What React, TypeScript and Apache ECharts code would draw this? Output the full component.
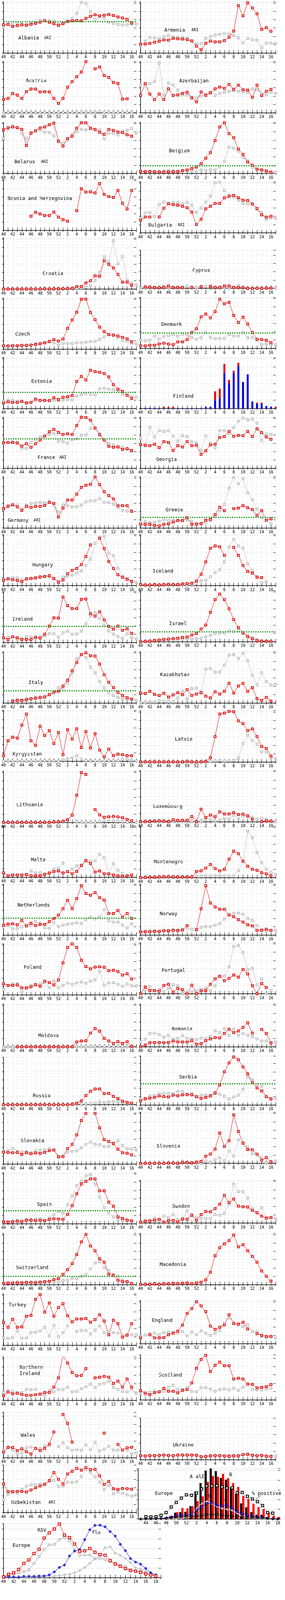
import React, { useEffect, useRef } from "react";
import * as echarts from "echarts";

const weeks = ["40","41","42","43","44","45","46","47","48","49","50","51","52","1","2","3","4","5","6","7","8","9","10","11","12","13","14","15","16","17"];
const euBarWeeks = ["43","44","45","46","47","48","49","50","51","52","1","2","3","4","5","6","7","8","9","10","11","12","13","14","15","16","17","18"];
const rsvWeeks = ["40","41","42","43","44","45","46","47","48","49","50","51","52","1","2","3","4","5","6","7","8","9","10","11","12","13","14","15","16","17","18","19"];

const albaniaRed = [3.4,3.43,3.19,3.3,3.37,3.33,3.44,3.56,3.7,3.87,3.69,3.51,3.31,3.51,3.81,3.86,3.9,3.86,4.16,4.41,4.59,4.47,4.54,4.63,4.51,4.33,4.21,4.04,3.6];
const albaniaGray = [3.11,3.47,3.54,3.56,3.5,3.46,3.54,3.61,3.9,3.91,3.89,3.83,3.47,3.57,3.76,4.16,4.76,6.09,5.97,4.97,4.04,4.33,4.16,3.69,3.57,3.43,3.37,3.39,3.47,3.47];
const armeniaRed = [1.07,1.07,1.16,1.3,1.41,1.57,1.54,1.76,1.71,1.67,1.6,1.44,0.81,0.39,1.16,1.44,1.33,1.33,1.5,1.89,2.64,5.69,4.47,6.04,5.4,4.71,2.83,3.04,2.61];
const armeniaGray = [0.9,1.43,1.87,1.8,1.73,1.97,2.07,1.94,1.87,1.89,1.79,1.47,1.14,1.14,1.76,1.97,2.16,2.24,2.34,2.3,2.11,1.83,1.23,1.76,1.59,1.54,0.64,1.19,1.19,1.16];
const austriaRed = [1.6,1.71,2.31,2.11,1.71,2.53,2.84,2.84,2.49,2.53,2.5,1.71,1.13,1.71,3.07,3.73,4.33,4.9,6.14,null,5.27,5.49,4.46,4.24,3.64,3.51,1.63,1.67,null];
const austriaGray = [0.05,0.05,0.05,0.05,0.05,0.05,0.05,0.05,0.05,0.05,0.05,0.05,0.05,0.05,0.05,0.05,0.05,0.08,0.1,0.1,0.1,0.15,0.1,0.1,0.08,0.05,0.05,0.05,0.05];
const azerRed = [2.07,3.5,2.24,1.57,2.24,1.6,2.86,2.07,2.14,2.33,2.47,1.77,1.31,2.5,2.09,2.39,2.86,3.09,2.93,3.4,2.81,3.31,2.76,2.71,1.86,3.31,2.06,2.57,2.79];
const azerGray = [3.31,3.43,3.46,3.74,5.97,2.11,3.57,3.31,2.74,2.14,2.11,1.89,1.77,2.0,2.21,2.47,2.06,2.31,2.47,2.57,2.64,2.57,2.5,2.43,2.83,2.76,2.29,2.14,2.47,2.33];
const belarusRed = [5.27,5.49,5.6,5.51,5.3,3.37,4.83,5.13,5.47,5.6,5.87,6.06,3.89,3.31,4.2,4.49,5.44,6.1,6.1,5.46,5.3,4.96,4.7,5.3,5.19,4.99,4.91,4.66,4.49];
const belarusGray = [4.2,5.34,5.73,5.49,4.8,4.24,4.96,5.16,5.24,4.96,4.91,4.54,3.81,3.63,4.06,4.69,5.06,5.3,5.24,5.34,5.27,5.27,4.17,4.84,4.84,4.63,5.06,5.2,5.41,4.84];
const belgiumRed = [0.26,0.21,0.26,0.21,0.17,0.17,0.21,0.21,0.21,0.36,0.43,0.6,0.77,1.2,1.84,2.51,3.96,5.6,6.1,4.8,4.31,2.94,2.3,1.38,1.0,0.53,0.43,0.31,0.17];
const belgiumGray = [0.26,0.26,0.26,0.26,0.26,0.31,0.36,0.31,0.31,0.31,0.31,0.31,0.21,0.43,0.39,0.46,0.43,0.79,1.46,3.16,3.06,2.7,1.91,1.53,0.74,0.5,0.43,0.21,0.14,0.14];
const bihRed = [null,null,null,null,null,null,1.71,2.19,1.97,1.79,1.79,2.21,1.6,1.29,1.11,null,2.36,5.0,4.6,4.64,4.5,5.64,4.33,4.07,3.96,4.79,3.26,2.57,4.79];
const bulgariaRed = [1.54,1.91,1.91,null,1.91,2.97,3.5,3.39,3.33,3.2,3.03,2.5,1.0,1.64,2.89,3.2,3.54,3.54,4.21,4.4,4.51,4.23,3.93,3.89,3.46,2.93,2.17,1.89,2.0];
const bulgariaGray = [1.76,2.39,2.43,1.96,3.41,3.71,3.54,3.64,3.67,3.5,3.67,3.33,2.47,2.99,3.7,4.4,6.03,6.1,5.1,4.5,4.29,3.93,3.54,3.47,3.54,2.81,2.47,1.61,1.8,1.74];
const croatiaRed = [0,0,0,0,0,0,0,0,0,0.04,0,0.04,0.04,0.04,0.07,0.1,0.31,0.31,0.74,1.0,1.6,1.54,3.4,2.96,2.53,1.76,0.83,0.83,0.47];
const croatiaGray = [0,0,0,0,0,0,0,0,0,0,0,0,0,0,0,0.07,0.1,0.14,0.21,0.4,1.03,2.0,3.89,3.26,5.83,3.0,3.9,1.11,0.74,0.5];
const cyprusRed = [null,0.19,0.16,0.11,0.09,0.11,0.29,0.11,0.11,0.11,null,0.11,null,0.19,null,0.26,0.09,0.11,0.29,0.29,0.11,0.11,0.11,0,0,0,0,0.04,0.04];
const cyprusGray = [0.05,0.1,0.15,0.1,0.05,0.3,0.1,0.1,0.1,0.1,0.28,0.1,0.1,0.24,0.24,0.24,0.2,0.1,0.1,0.1,0.1,0.33,0.1,0.05,0.05,0.05,0.05,0.05,0.05,0.05];
const czechRed = [0.39,0.39,0.41,0.41,0.46,0.46,0.49,0.57,0.64,0.76,0.93,1.14,0.97,1.23,2.5,3.5,4.44,6.0,6.01,4.4,3.54,2.64,2.11,1.76,1.7,1.59,1.43,1.24,0.89];
const czechGray = [0.4,0.4,0.4,0.4,0.4,0.4,0.5,0.67,0.71,0.79,0.86,0.76,0.5,0.71,0.67,0.67,0.76,0.76,0.83,0.9,0.93,1.19,1.47,1.71,1.64,1.43,1.03,0.97,0.71,0.64];
const denmarkRed = [0.31,0.31,0.39,0.39,0.54,0.63,0.53,0.46,0.79,0.79,1.07,1.91,2.36,3.79,4.14,3.67,4.43,5.93,5.36,5.54,3.97,3.11,3.76,2.93,1.91,1.11,1.07,0.97,0.69];
const denmarkGray = [0.96,0.93,1.0,1.5,1.14,1.46,1.53,1.67,1.49,1.71,1.61,1.31,1.11,1.29,1.93,1.31,1.19,1.19,1.21,1.67,1.49,1.49,1.9,1.29,1.31,0.96,0.47,0.54,0.5,0.46];
const estoniaRed = [0.66,0.8,0.73,0.73,0.87,0.66,0.73,1.14,0.97,0.97,0.94,1.3,1.09,1.36,1.43,1.57,3.26,3.86,3.43,4.61,4.43,4.36,4.21,3.79,2.87,2.33,2.07,1.59,1.21];
const estoniaGray = [0.86,1.0,0.94,0.87,0.83,0.71,0.76,0.97,1.0,1.0,0.97,1.0,0.94,1.01,1.07,1.04,1.51,1.69,1.8,1.71,1.64,2.36,2.43,2.33,2.26,2.19,1.69,1.64,1.4,1.37];
const finlandBlue = [0.07,0.07,0.07,0.07,0.07,0.04,0.04,0.04,0.05,0.05,0.05,0.05,0.05,0.05,0.19,0.19,1.0,1.26,4.29,3.04,4.29,5.11,3.19,4.11,0.86,0.57,0.57,0.3,0.19,0.07];
const finlandRed = [0,0,0,0,0,0.15,0.15,0.15,0,0,0,0,0,0,0,0,1.07,1.14,1.08,0.4,0.25,0.39,0,0,0,0.14,0.14,0,0,0.12];
const franceRed = [3.06,3.1,3.1,3.03,2.67,2.96,2.53,2.96,3.39,3.86,4.39,4.67,4.31,4.06,4.14,4.06,5.14,6.14,6.1,5.77,4.84,4.03,3.39,2.64,2.53,2.56,2.27,2.36,2.14];
const franceGray = [3.03,3.1,3.17,3.1,2.41,2.36,3.1,3.49,3.74,3.89,4.07,4.21,3.27,3.2,3.0,3.43,3.53,3.96,4.03,4.79,4.81,4.17,3.39,3.03,2.79,2.6,2.53,2.27,2.03];
const georgiaRed = [2.84,2.77,2.71,2.89,2.49,3.2,3.1,2.14,2.71,2.56,3.21,2.71,2.77,1.67,2.1,2.81,2.89,3.7,3.81,4.43,3.84,3.96,3.91,4.43,3.81,4.74,4.29,3.77,3.49];
const georgiaGray = [3.6,2.7,4.93,3.77,4.53,4.43,4.53,3.86,3.27,3.91,3.79,3.17,3.03,2.14,3.89,3.03,2.46,4.56,4.53,4.2,4.89,5.66,6.03,5.81,5.91,5.43,3.34,4.13,4.06];
const germanyRed = [2.33,2.64,2.79,2.54,2.11,2.6,2.47,2.6,2.6,2.71,3.07,2.96,1.31,2.39,3.36,3.36,4.07,4.89,5.14,5.26,6.14,5.21,4.36,3.89,3.5,2.69,2.69,2.69,2.0];
const germanyGray = [2.21,2.53,2.74,2.74,2.29,2.74,2.93,3.0,3.07,3.03,3.19,2.71,1.93,2.74,2.69,2.53,2.57,2.74,3.14,3.26,3.31,3.54,3.07,3.07,2.86,2.47,2.1,2.03,2.07];
const greeceRed = [0.46,0.43,0.46,0.31,0.26,0.46,0.5,0.71,0.89,0.89,1.24,0.46,0.46,0.54,0.93,1.04,1.61,2.5,2.09,null,2.33,2.39,2.69,2.43,2.21,1.53,2.09,0.93,1.1];
const greeceGray = [0.69,0.76,0.64,0.71,0.81,1.03,0.89,0.96,0.93,0.93,0.93,0.81,0.54,0.54,0.69,0.9,1.39,2.07,2.83,4.76,6.07,5.31,5.93,4.24,3.4,2.29,1.26,0.93,0.5];
const hungaryRed = [0.64,0.81,0.71,0.6,0.49,0.79,0.84,0.91,1.03,1.09,1.2,0.86,0.39,0.67,1.43,1.84,2.06,2.53,3.5,4.89,null,5.67,4.46,2.91,2.06,1.31,0.99,0.77,0.49];
const hungaryGray = [0.74,0.89,0.96,0.91,0.67,0.89,0.91,1.0,1.1,1.13,1.06,0.81,0.56,1.03,1.13,1.26,1.53,1.77,2.41,3.17,5.1,5.8,5.96,3.84,3.6,2.1,1.13,0.81,0.57,0.41];
const icelandRed = [0.13,0.06,0.06,0.13,0.06,0.13,0.17,0.13,0.13,0.21,0.24,0.29,0.56,1.36,2.86,4.49,4.77,4.66,3.64,null,4.6,3.64,2.41,1.71,1.5,1.0,0.96];
const icelandGray = [0.1,0.1,0.1,0.1,0.1,0.1,0.1,0.1,0.1,0.1,0.1,0.15,0.27,0.6,0.63,1.07,1.57,1.93,2.86,4.64,5.56,4.76,4.51,2.64,1.81,1.1,0.31,0.46];
const irelandRed = [0.57,0.36,0.69,0.57,0.36,0.36,0.36,0.64,0.53,1.0,1.97,2.97,2.93,5.46,4.43,4.07,4.07,5.19,5.24,3.46,3.17,3.69,2.71,1.93,1.61,1.97,1.47,1.64,1.1];
const irelandGray = [0.29,0.61,0.67,0.36,0.43,0.69,0.69,0.53,0.69,0.79,1.07,1.07,0.64,1.17,1.36,0.97,1.03,1.36,2.24,3.21,3.61,2.9,2.07,1.4,1.0,0.71,0.5,1.03,0.57,0.43];
const israelRed = [0,0.03,0.07,0.14,0.21,0.29,0.33,0.39,0.43,0.53,0.57,0.81,1.0,1.53,2.0,3.54,5.07,5.74,5.07,3.97,2.67,1.71,1.07,0.61,0.36,0.14,0.07,0.07,0.07];
const israelGray = [0.03,0.15,0.2,0.2,0.2,0.2,0.2,0.2,0.22,0.29,0.33,0.33,0.36,0.43,0.6,0.79,1.0,1.04,1.07,1.31,1.24,1.36,1.0,0.71,0.53,0.29,0.14,0.07,0.07];
const italyRed = [null,null,0.21,0.29,0.29,0.39,0.49,0.57,0.64,0.7,0.99,1.31,1.41,2.03,2.74,3.86,4.86,5.81,6.03,5.67,5.63,4.67,3.39,2.49,1.84,1.27,0.91,0.64,0.46];
const italyGray = [null,null,0.31,0.39,0.39,0.49,0.53,0.64,0.74,0.86,1.06,1.1,1.84,1.71,2.39,3.53,5.31,5.81,5.46,4.31,3.6,2.57,1.81,1.27,0.89,0.67,0.5,0.46,0.46,0.31];
const kazakhRed = [1.2,1.13,1.41,1.03,0.89,1.17,0.7,0.96,1.24,0.99,1.6,0.91,1.07,1.27,0.81,0.6,1.34,1.07,1.41,2.36,1.2,2.03,2.36,1.39,1.84,0.53,0.31,0.67,0.21];
const kazakhGray = [0.1,0.1,0.13,0.13,0.27,0.21,0.14,0.14,0.6,1.39,0.5,1.74,1.77,1.13,4.06,4.17,3.7,3.7,4.53,5.74,5.81,5.34,5.96,5.06,3.34,2.2,3.63,2.57,2.17,2.24];
const kyrgRed = [0.67,2.46,2.89,2.77,4.34,5.67,2.46,1.91,4.21,3.1,3.67,2.13,3.46,0.79,3.79,2.67,3.89,1.64,3.57,1.6,3.31,1.34,0.53,1.46,0.67,0.86,0.79,0.67,0.67];
const kyrgGray = [0.03,0.03,0.03,0.03,0.03,0.03,0.03,0.03,0.03,0.07,0.07,0.1,0,0.17,0.31,0.43,0.67,0.24,0.06,0.06,0.06,0,0.07,0.07,0.1,0.07,0.24,0.27,0.14,0.03];
const latviaRed = [0,0,0,0.02,0,0,0,0,0,0,0.07,0,0,0,0.07,0.51,3.04,5.76,5.87,6.09,6.04,4.94,4.61,3.76,3.97,3.04,1.86,1.61,0.71];
const latviaGray = [0.02,0.02,0.02,0.02,0.02,0.02,0.02,0.02,0.02,0.02,0.02,0.02,0.02,0.02,0.05,0.1,0.14,0.19,0.12,0.16,0.19,0.47,2.23,3.23,2.59,2.16,1.21,1.21,0.5,0.4];
const lithRed = [0,0,0,0,0,0,0,0,0,0,0,0.07,0.07,0.14,0.33,0.87,3.27,5.99,5.77,null,1.54,0.9,0.61,0.67,0.73,0.66,0.57,0.37,0.19];
const lithGray = [0,0,0,0,0,0,0,0,0,0,0,0,0,0.05,0.3,0.9,0.05,0,0,0,0,0.1,0.17,0.2,0.17,0.13,0.1,0.07,0.05,0];
const luxRed = [0,0,0.04,0.07,0.11,0.07,0,0.23,0.16,0.16,0.16,0.61,0,1.5,0.51,0.8,0.59,1.19,0.93,0.93,1.09,0.86,0.9,0.71,0.3,null,0,0.11,0.07];
const luxGray = [0.1,0.1,0.1,0.1,0.1,0.1,0.1,0.1,0.1,0.1,0.1,0.07,0,0.1,0.19,0.23,0.11,0.19,0.4,0.33,0.76,0.37,0.69,0.61,0.5,0.29,0.43,0.29,0.11,0.04];
const maltaRed = [0.5,0.17,0.26,0.26,0.26,0.33,0.17,0.17,0.17,0.33,0.5,0.67,0.74,0.5,0.67,0.4,0.71,1.39,1.97,1.64,0.61,0.74,0.4,0.4,0.26,0.17,0.11,0.17,0.26];
const maltaGray = [null,null,null,null,null,null,0.74,0.5,0.54,0.39,0.43,0.93,1.07,1.69,null,0.96,1.36,1.46,2.07,1.9,1.96,2.74,2.33,0.39,1.64,0.83,0.43];
const montRed = [0,0,0.04,0.04,0.07,0.1,0.1,0.07,0.07,0.07,0.07,0.07,0.73,0.8,1.14,1.57,1.09,0.79,1.0,2.21,3.16,2.86,1.97,1.36,1.0,0.87,0.57,0.44,0.21];
const montGray = [0.07,0.07,0.07,0.07,0.1,0.1,0.1,0.15,0.1,0.1,0.1,0.1,0.19,0.16,0.23,0.19,0.23,0.23,0.19,0.19,0.16,0.8,1.93,5.59,4.8,3.0,1.79,1.0,0.61,0.4];
const nethRed = [1.19,1.33,1.36,1.24,1.76,1.1,1.43,1.14,1.29,1.29,1.61,2.0,2.4,3.17,4.19,3.19,4.4,5.93,5.0,4.79,5.11,4.5,4.21,2.6,2.6,2.97,2.17,2.6,2.0];
const nethGray = [0.93,1.14,0.74,0.79,0.97,1.21,1.14,1.64,1.43,0.86,0.79,1.54,1.03,1.19,1.29,1.39,1.5,1.4,1.89,2.17,1.93,2.19,3.07,1.74,1.54,1.57,1.21,0.86,1.36];
const norwayRed = [0.39,0.39,0.39,0.46,0.43,0.54,0.5,0.57,0.54,0.6,1.14,null,0.67,3.17,5.93,3.86,3.39,3.1,3.11,2.43,2.21,1.86,1.57,1.24,1.11,0.57,0.57,0.71,0.57];
const norwayGray = [0.43,0.5,0.57,0.5,0.46,0.53,0.57,0.64,0.64,0.67,0.81,0.71,0.57,0.93,1.03,1.03,1.19,1.39,1.93,2.43,2.61,2.64,2.5,2.0,1.79,1.14,0.64,0.5,0.57,0.57];
const polandRed = [1.33,1.14,1.14,1.19,0.83,0.83,0.97,1.21,1.04,1.64,1.47,1.19,1.79,3.84,5.7,6.13,5.7,4.16,3.39,3.13,3.34,3.37,3.31,2.9,2.96,2.8,2.37,2.54,1.9];
const polandGray = [0.64,1.11,1.33,1.33,0.36,0.83,1.14,1.26,1.33,1.47,0.86,1.64,0.83,1.14,1.43,1.26,1.43,1.54,1.4,1.64,1.79,2.83,1.16,1.43,1.47,1.26,1.04,1.3,1.09,1.09];
const portugalRed = [0,0.81,0.4,0.4,0.31,1.0,1.14,0.19,0.64,0.5,0,1.04,0,0.36,0.39,1.14,1.79,2.1,1.57,1.86,2.26,2.0,2.93,2.39,0.96,0,1.24,0.76];
const portugalGray = [0,0.5,0.86,0.19,0.5,0.24,0.64,1.1,0.96,0,0.19,0.21,0.39,0.54,0.67,0.39,0.96,2.1,2.14,3.24,5.69,5.81,4.96,2.9,3.07,1.07,1.79,0,0.39];
const moldovaRed = [null,null,null,0,0,0,0,0,0,0,0,0,0,0,0,0,0.57,0.69,0.73,1.64,2.19,1.87,1.01,0.69,0.4,0.61,0.4,0.61,0.04];
const moldovaGray = [0,0,0,0,0,0,0,0,0,0,0,0,0,0,0,0,0,0,0,0,0.04,0.07,0.04,0.04,0.1,0.04,0.04,0.04,0.04];
const romaniaRed = [0,0.21,0.5,0.5,0.51,0.5,0.51,0.69,0.59,0.57,0.57,0.73,0.3,0.37,0.73,0.94,1.11,1.07,1.61,2.11,1.69,1.9,2.33,2.87,1.64,null,2.07,1.59,0.44];
const romaniaGray = [0.57,0.9,1.59,1.64,1.47,1.16,1.37,0.93,1.0,1.33,0.97,0.97,0.87,1.04,0.97,1.23,1.93,1.69,2.19,1.33,2.11,1.4,1.61,1.37,1.23,0.94,0.69,0.69,0.57,0.57];
const russiaRed = [0,0,0,0,0,0,0,0,0,0,0,0,0,0,0,0.07,0.19,0.47,1.1,1.61,1.89,1.89,1.33,1.36,1.0,0.74,0.43,0.29,0.19];
const russiaGray = [0,0,0,0,0,0,0,0,0,0,0,0,0,0,0,0,0.07,0.1,0.11,0.14,0.19,0.36,0.26,0.33,0.36,0.4,0.29,0.19,0.14];
const serbiaRed = [0.5,0.79,0.83,0.93,1.09,1.01,0.97,1.19,1.11,1.23,1.26,1.23,1.01,0.8,0.93,1.09,1.47,2.4,4.0,5.07,5.79,5.44,4.59,3.76,2.69,2.07,1.69,1.0,0.71];
const serbiaGray = [0.76,0.69,1.09,1.16,1.37,1.37,1.4,1.4,1.64,1.64,1.33,1.4,0.97,1.19,1.19,1.19,1.36,1.3,1.04,0.71,0.97,1.19,1.9,3.4,3.07,2.47,2.26,1.01,0.8,0.79];
const slovakiaRed = [1.44,1.4,1.37,1.4,1.17,1.36,1.24,1.34,1.3,1.4,1.61,1.69,0.86,0.9,1.87,2.36,3.51,5.24,6.1,null,6.1,4.36,2.94,2.71,2.44,1.79,1.37,1.31,1.11];
const slovakiaGray = [1.57,1.61,1.9,1.57,1.47,1.51,1.4,1.61,1.69,1.69,1.83,1.69,1.0,1.0,1.44,1.54,1.59,1.94,2.36,2.66,2.37,2.33,2.11,2.14,2.57,2.79,2.23,1.83,1.8,1.69];
const sloveniaRed = [0,0,0,0,0,0,0.05,0.05,0,0.1,0.13,0.06,0.17,0.24,0.86,1.13,1.71,3.66,2.03,2.74,5.83,3.84,2.43,1.67,1.63,1.1,0.39,0.7,0.17];
const sloveniaGray = [0.03,0.03,0.03,0.03,0.03,0.03,0.03,0.03,0.03,0.27,0.17,0.1,0.1,0,0.29,0.14,0.43,0.67,0.31,1.49,0.86,2.84,2.49,1.99,1.17,1.1,0.67,0.07,0.27,0.27];
const spainRed = [0.24,0.19,0.24,0.33,0.24,0.43,0.43,0.39,0.43,0.39,0.53,0.61,0.57,0.54,1.14,2.19,3.61,4.79,5.11,5.4,5.4,3.97,3.97,2.6,2.11,0.83,0.64,0.46,0.36];
const spainGray = [0.29,0.29,0.36,0.43,0.43,0.5,0.54,0.57,0.61,0.36,0.69,1.07,1.5,1.29,2.29,3.36,4.6,5.11,5.79,5.93,4.74,3.21,1.96,1.36,0.83,0.53,0.39,0.36,0.31];
const swedenRed = [0.11,0.26,0.26,0.36,0.46,0.11,0.29,0.33,0.14,0.5,0.47,0.97,0.33,1.03,1.41,1.36,1.74,2.27,3.33,2.47,2.89,2.04,1.97,1.93,1.53,1.24,0.84,0.6,0.67];
const swedenGray = [0.11,0.24,0.29,0.6,0.29,0.86,0.64,1.03,0.43,0.46,1.46,0.86,0.67,0.6,0.57,0.57,1.03,0.93,1.17,2.29,4.69,3.79,3.79,3.0,1.71,1.29,1.83,0.67,0.67,0.53];
const switzRed = [0.14,0.21,0.19,0.21,0.21,0.26,0.26,0.21,0.29,0.33,0.4,0.6,0.71,1.24,1.79,2.53,3.61,5.14,6.04,4.64,4.07,3.1,2.69,1.26,1.11,0.54,0.36,0.36,0.11];
const switzGray = [0.14,0.21,0.21,0.33,0.29,0.29,0.29,0.33,0.33,0.39,0.39,0.33,0.26,0.5,0.54,0.76,0.71,1.03,1.21,1.89,2.61,2.74,2.03,1.71,1.21,1.0,0.53,0.33,0.14];
const macRed = [0.04,0.04,0.04,0.11,0.04,0.11,0.11,0.17,0.11,0.17,0.21,0.11,0.21,0.29,0.57,1.5,3.47,4.43,4.9,5.29,5.96,4.54,4.79,4.07,3.39,2.69,1.64,1.0,0.43];
const turkeyRed = [2.71,2.14,3.1,2.14,2.19,3.47,3.57,5.5,6.07,3.96,5.07,3.47,4.5,4.97,3.53,2.79,3.14,3.14,3.19,2.74,3.07,3.64,2.89,1.24,3.0,2.57,0.96,1.19,2.57];
const turkeyGray = [0.9,0.79,0.9,1.71,0.83,0.86,1.5,1.54,1.71,2.14,1.1,2.36,1.0,1.5,2.31,null,1.64,1.76,1.76,1.33,1.79,2.31,1.5,1.5,1.5,1.46,1.11,1.21,1.24,1.21];
const englandRed = [0.69,null,1.11,0.69,0.69,0.73,1.07,1.26,1.5,2.23,3.64,4.23,5.04,4.54,3.86,2.11,1.71,1.97,2.26,3.47,2.4,2.36,2.57,1.76,null,1.21,1.0,0.87,0.87];
const englandGray = [0.87,1.04,0.97,1.3,1.04,1.33,1.37,1.36,1.3,1.47,0.9,1.4,1.07,1.54,1.26,1.0,1.26,1.59,2.47,3.11,2.54,2.29,2.04,2.29,1.47,1.43,0.86,0.73,0.83,0.69];
const niRed = [0.54,0.97,0.76,0.83,0.69,0.59,0.59,0.66,0.73,0.93,0.93,1.57,2.69,5.37,4.47,3.33,2.93,2.97,3.79,null,2.69,2.76,2.86,2.76,2.01,2.29,1.57,2.54,1.57];
const niGray = [0.93,1.16,1.09,0.9,0.9,1.3,1.26,1.3,0.71,0.59,1.16,1.0,1.29,1.26,1.57,1.0,1.04,1.37,1.61,1.93,1.51,1.9,2.04,2.29,1.51,1.3,1.04,0.97,1.3,0.83];
const scotRed = [1.1,0.81,0.61,0.86,0.96,1.39,1.03,1.03,0.83,1.14,1.24,2.03,3.79,4.86,5.36,3.4,4.14,4.53,4.1,4.1,2.5,2.6,2.5,1.89,1.86,1.43,1.5,1.57,1.83];
const scotGray = [0.74,0.6,0.89,1.07,0.93,1.04,1.5,1.74,1.24,1.24,1.43,1.0,0.97,1.43,1.47,1.29,1.04,1.24,1.31,1.21,1.4,1.14,1.53,1.9,1.26,1.19,1.19,1.29,1.39];
const walesRed = [0.69,1.24,1.24,0.86,1.07,0.74,0.47,1.14,0.86,1.14,1.64,3.1,null,5.21,4.14,1.89,null,null,null,null,null,null,2.96,null,null,1.61,0.93,1.19,1.26];
const walesGray = [0.89,1.33,0.89,0.47,0.6,1.21,1.29,1.14,1.11,1.43,1.47,null,1.33,1.79,1.21,0.9,0.97,0.9,1.57,0.96,1.86,0.79,1.03,1.39,0.93,0.93,null,0.93,0.5,0.57];
const ukraineRed = [0.47,0.43,0.47,0.47,0.5,0.54,0.5,0.47,0.54,0.54,0.54,0.54,0.53,0.33,0.36,0.43,0.47,0.47,0.43,0.4,0.43,0.43,0.61,0.64,0.5,0.46,0.5,0.4,0.36];
const ukraineGray = [0.45,0.45,0.5,0.5,0.5,0.55,0.5,0.5,0.55,0.55,0.55,0.55,0.5,0.4,0.45,0.5,0.5,0.5,0.45,0.5,0.5,0.5,0.55,0.6,0.55,0.5,0.5,0.5,0.45,0.45];
const uzbRed = [3.43,2.51,2.51,2.54,2.54,2.47,2.7,2.97,3.2,3.41,3.84,4.81,3.99,3.43,4.64,4.96,5.31,5.1,5.39,5.16,5.2,4.41,3.37,3.74,2.86,2.77,2.9,2.86,2.81];
const uzbGray = [1.53,2.21,2.41,2.33,2.77,3.17,3.34,3.34,3.41,3.31,3.77,3.86,3.14,3.2,3.67,3.63,3.71,4.31,5.2,4.81,4.29,3.67,2.74,3.27,2.26,2.49,2.3,2.13,1.96,2.13];

const euAll = [0,0,0.02,0.05,0.07,0.13,0.26,0.65,0.7,0.74,1.32,2.84,3.7,4.98,5.22,4.93,4.22,4.04,3.28,2.57,1.6,1.2,0.71,0.44,0.44,0.2,0.07,0.04];
const euB = [0,0.02,0.05,0.07,0.13,0.23,0.32,0.71,1.13,1.09,1.32,1.84,2.33,3.82,4.43,4.34,4.65,4.2,3.7,3.3,2.39,2.09,1.57,1.23,1.02,0.66,0.35,0.2];
const euPos = [null,0.23,0.2,0.23,0.38,0.65,1.23,1.7,2.15,2.48,2.43,2.66,3.09,3.39,3.4,3.43,3.3,3.18,3.21,2.7,2.73,2.33,2.05,1.78,1.38,0.65,0.59,null];
const euMx = [0,0,0,0,0,0,0.02,0.03,0.1,0.15,0.3,1.1,1.6,1.84,1.6,1.3,1.1,1.0,0.9,0.6,0.25,0.15,0.1,0.05,0.03,0.02,0,0];
const euH3 = [0,0.02,0.03,0.05,0.07,0.1,0.2,0.35,0.4,0.35,0.5,0.9,1.25,1.6,1.66,1.4,1.35,1.4,1.1,0.75,0.55,0.4,0.25,0.2,0.15,0.05,0.02,0];
const euH1 = [0,0,0.02,0.03,0.04,0.05,0.1,0.2,0.22,0.25,0.25,0.3,0.35,0.45,0.45,0.45,0.4,0.3,0.3,0.25,0.2,0.15,0.15,0.1,0.1,0.05,0.02,0];

const rsvNow = [0.07,0.34,0.5,0.84,1.45,1.82,2.48,2.91,4.07,4.61,5.01,5.52,4.38,4.12,3.46,2.7,2.76,3.0,2.61,2.37,2.3,1.76,1.39,1.17,0.93,0.74,0.66,0.54,0.38,0.28,0.17];
const rsvPrev = [0.07,0.26,0.32,0.5,0.62,0.8,1.45,2.18,2.88,3.37,3.43,3.91,4.16,3.79,2.84,2.29,2.33,2.33,1.94,2.0,1.84,1.66,1.5,1.21,1.11,0.78,0.68,0.62,0.52,0.32,0.26];
const fluNow = [0.07,0.07,0.07,0.04,0.13,0.13,0.13,0.16,0.17,0.28,0.59,1.05,1.29,2.23,2.73,2.9,3.91,4.93,5.38,5.4,5.23,4.74,4.28,3.43,2.78,1.96,1.6,1.38,0.95,0.5,0.26];
const fluPrev = [0.04,0.04,0.04,0.04,0.04,0.04,0.07,0.1,0.1,0.14,0.16,0.22,0.28,0.35,0.5,0.74,1.05,1.48,1.93,2.33,3.09,3.18,2.51,2.3,1.96,1.57,1.01,0.87,0.68,0.44,0.32];

// the browser viewport is 4096 px tall: the 4500 px layout is compressed vertically to fit it
const PAGE_H = 4096;
const SY = PAGE_H / 4500;
const L = 3, R = 360, UNIT = 23.4, PW = 346;
const panels: any[] = [
  { name: "Albania", sub: "ARI", col: 0, ay: 149, red: albaniaRed, gray: albaniaGray, green: 3.76, lx: 47, ly: 106, sx: 113 },
  { name: "Armenia", sub: "ARI", col: 1, ay: 149, red: armeniaRed, gray: armeniaGray, lx: 421, ly: 84, sx: 490 },
  { name: "Austria", col: 0, ay: 317, red: austriaRed, gray: austriaGray, lx: 66, ly: 226 },
  { name: "Azerbaijan", col: 1, ay: 317, red: azerRed, gray: azerGray, lx: 459, ly: 227 },
  { name: "Belarus", sub: "ARI", col: 0, ay: 488, red: belarusRed, gray: belarusGray, lx: 37, ly: 454, sx: 105 },
  { name: "Belgium", col: 1, ay: 488, red: belgiumRed, gray: belgiumGray, green: 0.93, lx: 433, ly: 423 },
  { name: "Bosnia and Herzegovina", col: 0, ay: 648, red: bihRed, lx: 19, ly: 558 },
  { name: "Bulgaria", sub: "ARI", col: 1, ay: 655, red: bulgariaRed, gray: bulgariaGray, lx: 380, ly: 632, sx: 455 },
  { name: "Croatia", col: 0, ay: 813, red: croatiaRed, gray: croatiaGray, lx: 109, ly: 769 },
  { name: "Cyprus", col: 1, ay: 811, red: cyprusRed, gray: cyprusGray, lx: 493, ly: 760, ymax: 4.6 },
  { name: "Czech", col: 0, ay: 982, red: czechRed, gray: czechGray, lx: 39, ly: 939 },
  { name: "Denmark", col: 1, ay: 980, red: denmarkRed, gray: denmarkGray, green: 1.89, lx: 413, ly: 911 },
  { name: "Estonia", col: 0, ay: 1149, red: estoniaRed, gray: estoniaGray, green: 1.96, lx: 80, ly: 1072 },
  { name: "Finland", col: 1, ay: 1149, bars: true, lx: 443, ly: 1114 },
  { name: "France", sub: "ARI", col: 0, ay: 1317, red: franceRed, gray: franceGray, green: 3.56, lx: 96, ly: 1286, sx: 152 },
  { name: "Georgia", col: 1, ay: 1317, red: georgiaRed, gray: georgiaGray, lx: 400, ly: 1291 },
  { name: "Germany", sub: "ARI", col: 0, ay: 1485, red: germanyRed, gray: germanyGray, lx: 20, ly: 1463, sx: 86 },
  { name: "Greece", col: 1, ay: 1485, red: greeceRed, gray: greeceGray, green: 1.29, lx: 424, ly: 1433 },
  { name: "Hungary", col: 0, ay: 1647, red: hungaryRed, gray: hungaryGray, lx: 83, ly: 1588 },
  { name: "Iceland", col: 1, ay: 1647, red: icelandRed, gray: icelandGray, lx: 391, ly: 1606 },
  { name: "Ireland", col: 0, ay: 1807, red: irelandRed, gray: irelandGray, green: 1.93, lx: 31, ly: 1741 },
  { name: "Israel", col: 1, ay: 1805, red: israelRed, gray: israelGray, green: 1.21, lx: 433, ly: 1753 },
  { name: "Italy", col: 0, ay: 1977, red: italyRed, gray: italyGray, green: 1.49, lx: 73, ly: 1919 },
  { name: "Kazakhstan", col: 1, ay: 1977, red: kazakhRed, gray: kazakhGray, lx: 410, ly: 1897 },
  { name: "Kyrgyzstan", col: 0, ay: 2141, red: kyrgRed, gray: kyrgGray, lx: 32, ly: 2120 },
  { name: "Latvia", col: 1, ay: 2143, red: latviaRed, gray: latviaGray, lx: 448, ly: 2078 },
  { name: "Lithuania", col: 0, ay: 2313, red: lithRed, gray: lithGray, lx: 42, ly: 2263 },
  { name: "Luxembourg", col: 1, ay: 2311, red: luxRed, gray: luxGray, lx: 392, ly: 2267 },
  { name: "Malta", col: 0, ay: 2467, red: maltaRed, gray: maltaGray, lx: 79, ly: 2418 },
  { name: "Montenegro", col: 1, ay: 2468, red: montRed, gray: montGray, lx: 394, ly: 2423 },
  { name: "Netherlands", col: 0, ay: 2630, red: nethRed, gray: nethGray, green: 2.03, lx: 45, ly: 2545 },
  { name: "Norway", col: 1, ay: 2630, red: norwayRed, gray: norwayGray, lx: 409, ly: 2569 },
  { name: "Poland", col: 0, ay: 2798, red: polandRed, gray: polandGray, lx: 61, ly: 2720 },
  { name: "Portugal", col: 1, ay: 2795, red: portugalRed, gray: portugalGray, lx: 414, ly: 2729 },
  { name: "Moldova", col: 0, ay: 2944, red: moldovaRed, gray: moldovaGray, lx: 98, ly: 2912, ymax: 5.15 },
  { name: "Romania", col: 1, ay: 2944, red: romaniaRed, gray: romaniaGray, lx: 440, ly: 2893, ymax: 5.15 },
  { name: "Russia", col: 0, ay: 3107, red: russiaRed, gray: russiaGray, lx: 84, ly: 3081, ymax: 5.7 },
  { name: "Serbia", col: 1, ay: 3108, red: serbiaRed, gray: serbiaGray, green: 2.57, lx: 459, ly: 3028, ymax: 5.9 },
  { name: "Slovakia", col: 0, ay: 3274, red: slovakiaRed, gray: slovakiaGray, lx: 53, ly: 3207 },
  { name: "Slovenia", col: 1, ay: 3272, red: sloveniaRed, gray: sloveniaGray, lx: 401, ly: 3223 },
  { name: "Spain", col: 0, ay: 3442, red: spainRed, gray: spainGray, green: 1.6, lx: 95, ly: 3387 },
  { name: "Sweden", col: 1, ay: 3440, red: swedenRed, gray: swedenGray, lx: 441, ly: 3392, ymax: 5.15 },
  { name: "Switzerland", col: 0, ay: 3613, red: switzRed, gray: switzGray, green: 1.0, lx: 41, ly: 3565 },
  { name: "Macedonia", col: 1, ay: 3613, red: macRed, lx: 409, ly: 3556 },
  { name: "Turkey", col: 0, ay: 3783, red: turkeyRed, gray: turkeyGray, lx: 22, ly: 3669 },
  { name: "England", col: 1, ay: 3779, red: englandRed, gray: englandGray, lx: 389, ly: 3713, ymax: 5.2 },
  { name: "Northern", name2: "Ireland", col: 0, ay: 3938, red: niRed, gray: niGray, lx: 50, ly: 3845, ymax: 5.2 },
  { name: "Scotland", col: 1, ay: 3937, red: scotRed, gray: scotGray, lx: 406, ly: 3867, ymax: 5.4 },
  { name: "Wales", col: 0, ay: 4100, red: walesRed, gray: walesGray, lx: 53, ly: 4036, ymax: 5.5 },
  { name: "Ukraine", col: 1, ay: 4105, red: ukraineRed, gray: ukraineGray, lx: 443, ly: 4063, ymax: 5.0 },
  { name: "Uzbekistan", sub: "ARI", col: 0, ay: 4254, red: uzbRed, gray: uzbGray, lx: 29, ly: 4225, sx: 124, ymax: 5.7 },
];

const MONO = "DejaVu Sans Mono";
const RED = "#e00000";
const GRAY = "#bdbdbd";

function buildOption() {
  const grid: any[] = [], xAxis: any[] = [], yAxis: any[] = [], series: any[] = [], graphic: any[] = [];
  const addAxes = (gi: number, data: string[], ymax: number, opts: any) => {
    xAxis.push({
      gridIndex: gi, type: "category", data, boundaryGap: opts.boundaryGap || false,
      axisLine: { lineStyle: { color: "#000", width: 1.5 } },
      axisTick: { interval: 0, length: 4, alignWithLabel: true, lineStyle: { color: "#000" } },
      axisLabel: { interval: opts.labelInterval ?? 1, fontFamily: MONO, fontSize: 10, color: "#000", margin: 5 },
      splitLine: { show: !!opts.vgrid, interval: 0, lineStyle: { color: "#ddd", type: [4, 4] } },
    });
    xAxis.push({
      gridIndex: gi, type: "category", data, boundaryGap: opts.boundaryGap || false, position: "bottom",
      axisLine: { show: false }, axisTick: { inside: true, interval: 0, length: 7, alignWithLabel: true, lineStyle: { color: "#000" } },
      axisLabel: { show: false }, splitLine: { show: false },
    });
    yAxis.push({
      gridIndex: gi, type: "value", min: 0, max: ymax, interval: 1,
      axisLine: { show: true, lineStyle: { color: "#000", width: 1.5 } },
      axisTick: { show: true, length: 4, lineStyle: { color: "#000" } },
      axisLabel: { show: false },
      splitLine: { show: true, lineStyle: { color: "#ddd", type: opts.solid ? "solid" : [4, 4] } },
    });
    yAxis.push({
      gridIndex: gi, type: "value", min: 0, max: ymax, interval: 1,
      axisLine: { show: false }, axisTick: { show: true, inside: true, length: 6, lineStyle: { color: "#000" } },
      axisLabel: { show: false }, splitLine: { show: false },
    });
  };
  const line = (gi: number, data: any[], color: string, lw = 1, sym = "emptyRect", size = 5, extra: any = {}) => ({
    type: "line", xAxisIndex: gi * 2, yAxisIndex: gi * 2, data, symbol: sym, symbolSize: size,
    lineStyle: { color, width: lw }, itemStyle: { color, borderWidth: 1 }, connectNulls: false, silent: true, ...extra,
  });
  const text = (x: number, y: number, t: string, size = 12.5) =>
    graphic.push({ type: "text", x, y: y * SY, silent: true, style: { text: t, font: `${size}px "${MONO}"`, fill: "#000", verticalAlign: "middle" } });

  panels.forEach((p, gi) => {
    const ymax = p.ymax || 6.15;
    const h = ymax * UNIT * SY;
    grid.push({ left: p.col === 0 ? L : R, top: p.ay * SY - h, width: PW, height: h });
    addAxes(gi, weeks, ymax, { vgrid: true });
    if (p.bars) {
      series.push({ type: "bar", xAxisIndex: gi * 2, yAxisIndex: gi * 2, stack: "fin", data: finlandBlue, barWidth: 5, itemStyle: { color: "#0000ee" }, silent: true });
      series.push({ type: "bar", xAxisIndex: gi * 2, yAxisIndex: gi * 2, stack: "fin", data: finlandRed, barWidth: 5, itemStyle: { color: "#ee0000" }, silent: true });
    } else {
      if (p.gray) series.push(line(gi, p.gray, GRAY));
      const s: any = line(gi, p.red, RED);
      if (p.green != null) {
        s.markLine = { silent: true, symbol: "none", label: { show: false }, lineStyle: { color: "#199a19", type: [3, 3], width: 3 }, data: [{ yAxis: p.green }] };
      }
      series.push(s);
    }
    text(p.lx, p.ly, p.name);
    if (p.name2) text(p.lx, p.ly + 17, p.name2);
    if (p.sub) text(p.sx, p.ly, p.sub, 10);
  });

  // Europe: bars of positive specimens with % positive and subtype lines
  let gi = panels.length;
  const eh = 5.2 * 27.3 * SY;
  grid.push({ left: 354, top: 4272 * SY - eh, width: 364, height: eh });
  addAxes(gi, euBarWeeks, 5.2, { boundaryGap: true, solid: true, labelInterval: (i: number, v: string) => Number(v) % 2 === 0 });
  series.push({ type: "bar", xAxisIndex: gi * 2, yAxisIndex: gi * 2, data: euAll, barWidth: 5.5, barGap: "0%", itemStyle: { color: "#000" }, silent: true });
  series.push({ type: "bar", xAxisIndex: gi * 2, yAxisIndex: gi * 2, data: euB, barWidth: 5.5, barGap: "0%", itemStyle: { color: "#ff0000" }, silent: true });
  series.push(line(gi, euPos, "#000", 1, "emptyRect", 6, { lineStyle: { color: "#3c8c3c", width: 1 } }));
  series.push(line(gi, euMx, "#ccc", 2, "triangle", 5, { itemStyle: { color: "#fff", borderColor: "#aaa", borderWidth: 1 } }));
  series.push(line(gi, euH3, "#0000cc", 1, "emptyDiamond", 5));
  series.push(line(gi, euH1, "#000", 1, "emptyDiamond", 5));
  text(486, 4152, "A all");
  text(587, 4147, "B");
  text(397, 4199, "Europe");
  text(645, 4199, "% positive");
  text(529, 4207, "Mx");
  text(572, 4219, "H3");
  graphic.push({ type: "line", silent: true, shape: { x1: 515, y1: 4158 * SY, x2: 523, y2: 4148 * SY }, style: { stroke: "#000", lineWidth: 1 } });
  graphic.push({ type: "line", silent: true, shape: { x1: 586, y1: 4157 * SY, x2: 582, y2: 4164 * SY }, style: { stroke: "#000", lineWidth: 1 } });
  graphic.push({ type: "line", silent: true, shape: { x1: 668, y1: 4206 * SY, x2: 655, y2: 4216 * SY }, style: { stroke: "#000", lineWidth: 1 } });

  // Europe: RSV and flu
  gi += 1;
  const rh = 5.56 * 27.3 * SY;
  grid.push({ left: 3, top: 4437 * SY - rh, width: 31 * 13.2, height: rh });
  addAxes(gi, rsvWeeks, 5.56, { solid: true });
  series.push(line(gi, rsvPrev, GRAY, 1.5));
  series.push(line(gi, fluPrev, GRAY, 1.5, "emptyDiamond", 5));
  series.push(line(gi, fluNow, "#0000cc", 1, "emptyDiamond", 5));
  series.push(line(gi, rsvNow, RED, 1, "emptyRect", 6));
  text(96, 4303, "RSV");
  text(235, 4309, "flu");
  text(32, 4346, "Europe");

  return { animation: false, grid, xAxis, yAxis, series, graphic };
}

export default function App() {
  const ref = useRef<HTMLDivElement>(null);
  useEffect(() => {
    document.body.style.margin = "0";
    const chart = echarts.init(ref.current!, undefined, { renderer: "svg" });
    chart.setOption(buildOption() as any);
    return () => chart.dispose();
  }, []);
  return <div ref={ref} style={{ width: 730, height: PAGE_H, background: "#fff" }} />;
}
